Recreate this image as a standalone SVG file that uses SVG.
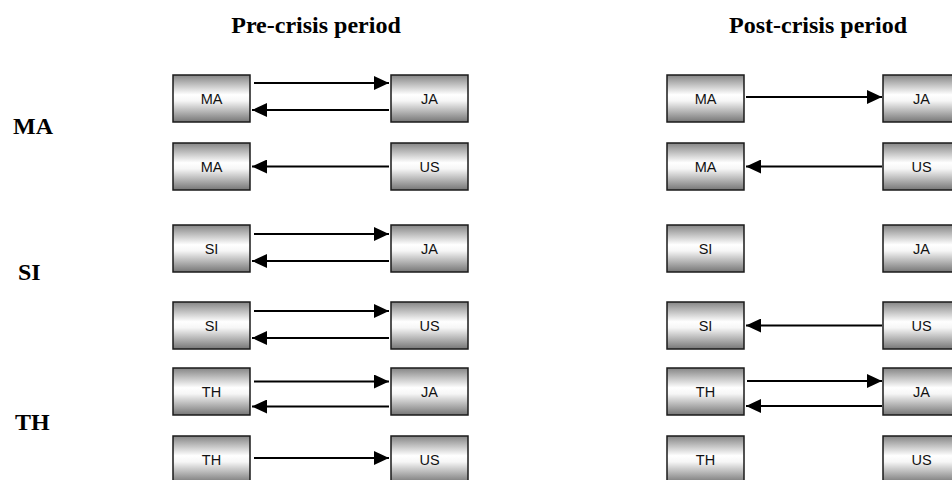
<svg xmlns="http://www.w3.org/2000/svg" width="952" height="480" viewBox="0 0 952 480">
<defs>
<linearGradient id="g" x1="0" y1="0" x2="0" y2="1">
<stop offset="0" stop-color="#858585"/>
<stop offset="0.42" stop-color="#ffffff"/>
<stop offset="0.55" stop-color="#f6f6f6"/>
<stop offset="1" stop-color="#767676"/>
</linearGradient>
<marker id="ah" markerUnits="userSpaceOnUse" markerWidth="15" markerHeight="14" refX="15" refY="7" orient="auto">
<path d="M0,0 L15,7 L0,14 z" fill="#000"/>
</marker>
</defs>
<style>
.box{fill:url(#g);stroke:#1a1a1a;stroke-width:1.5}
.bt{font-family:"Liberation Sans",Arial,sans-serif;font-size:14.5px;text-anchor:middle;fill:#111}
.title{font-family:"Liberation Serif","Times New Roman",serif;font-weight:bold;font-size:24px;text-anchor:middle;fill:#000}
.row{font-family:"Liberation Serif","Times New Roman",serif;font-weight:bold;font-size:24px;fill:#000}
.c line{stroke:#000;stroke-width:2;marker-end:url(#ah)}
</style>
<rect width="952" height="480" fill="#fff"/>
<text class="title" x="316" y="33">Pre-crisis period</text>
<text class="title" x="818" y="33">Post-crisis period</text>
<text class="row" x="13" y="134">MA</text>
<text class="row" x="18" y="280">SI</text>
<text class="row" x="15" y="430">TH</text>

<g id="pre-ma1"><rect class="box" x="173" y="75" width="77" height="47"/><text class="bt" x="211.5" y="104">MA</text></g>
<g id="pre-ja1"><rect class="box" x="391" y="75" width="77" height="47"/><text class="bt" x="429.5" y="104">JA</text></g>
<g id="pre-ma2"><rect class="box" x="173" y="143" width="77" height="47"/><text class="bt" x="211.5" y="172">MA</text></g>
<g id="pre-us1"><rect class="box" x="391" y="143" width="77" height="47"/><text class="bt" x="429.5" y="172">US</text></g>
<g id="pre-si1"><rect class="box" x="173" y="225" width="77" height="47"/><text class="bt" x="211.5" y="254">SI</text></g>
<g id="pre-ja2"><rect class="box" x="391" y="225" width="77" height="47"/><text class="bt" x="429.5" y="254">JA</text></g>
<g id="pre-si2"><rect class="box" x="173" y="302" width="77" height="47"/><text class="bt" x="211.5" y="331">SI</text></g>
<g id="pre-us2"><rect class="box" x="391" y="302" width="77" height="47"/><text class="bt" x="429.5" y="331">US</text></g>
<g id="pre-th1"><rect class="box" x="173" y="368" width="77" height="47"/><text class="bt" x="211.5" y="397">TH</text></g>
<g id="pre-ja3"><rect class="box" x="391" y="368" width="77" height="47"/><text class="bt" x="429.5" y="397">JA</text></g>
<g id="pre-th2"><rect class="box" x="173" y="436" width="77" height="47"/><text class="bt" x="211.5" y="465">TH</text></g>
<g id="pre-us3"><rect class="box" x="391" y="436" width="77" height="47"/><text class="bt" x="429.5" y="465">US</text></g>

<g id="post-ma1"><rect class="box" x="667" y="75" width="77" height="47"/><text class="bt" x="705.5" y="104">MA</text></g>
<g id="post-ja1"><rect class="box" x="883" y="75" width="77" height="47"/><text class="bt" x="921.5" y="104">JA</text></g>
<g id="post-ma2"><rect class="box" x="667" y="143" width="77" height="47"/><text class="bt" x="705.5" y="172">MA</text></g>
<g id="post-us1"><rect class="box" x="883" y="143" width="77" height="47"/><text class="bt" x="921.5" y="172">US</text></g>
<g id="post-si1"><rect class="box" x="667" y="225" width="77" height="47"/><text class="bt" x="705.5" y="254">SI</text></g>
<g id="post-ja2"><rect class="box" x="883" y="225" width="77" height="47"/><text class="bt" x="921.5" y="254">JA</text></g>
<g id="post-si2"><rect class="box" x="667" y="302" width="77" height="47"/><text class="bt" x="705.5" y="331">SI</text></g>
<g id="post-us2"><rect class="box" x="883" y="302" width="77" height="47"/><text class="bt" x="921.5" y="331">US</text></g>
<g id="post-th1"><rect class="box" x="667" y="368" width="77" height="47"/><text class="bt" x="705.5" y="397">TH</text></g>
<g id="post-ja3"><rect class="box" x="883" y="368" width="77" height="47"/><text class="bt" x="921.5" y="397">JA</text></g>
<g id="post-th2"><rect class="box" x="667" y="436" width="77" height="47"/><text class="bt" x="705.5" y="465">TH</text></g>
<g id="post-us3"><rect class="box" x="883" y="436" width="77" height="47"/><text class="bt" x="921.5" y="465">US</text></g>

<g id="connectors" class="c">
<line x1="254" y1="83" x2="389" y2="83"/>
<line x1="389" y1="110" x2="252" y2="110"/>
<line x1="389" y1="166.5" x2="252" y2="166.5"/>
<line x1="254" y1="234" x2="389" y2="234"/>
<line x1="389" y1="261" x2="252" y2="261"/>
<line x1="254" y1="311" x2="389" y2="311"/>
<line x1="389" y1="338" x2="252" y2="338"/>
<line x1="254" y1="381.5" x2="389" y2="381.5"/>
<line x1="389" y1="406.5" x2="252" y2="406.5"/>
<line x1="254" y1="458" x2="389" y2="458"/>
<line x1="746" y1="97" x2="882" y2="97"/>
<line x1="882" y1="166.5" x2="746" y2="166.5"/>
<line x1="882" y1="325.5" x2="746" y2="325.5"/>
<line x1="747" y1="381" x2="882" y2="381"/>
<line x1="882" y1="406" x2="746" y2="406"/>
</g>
</svg>
